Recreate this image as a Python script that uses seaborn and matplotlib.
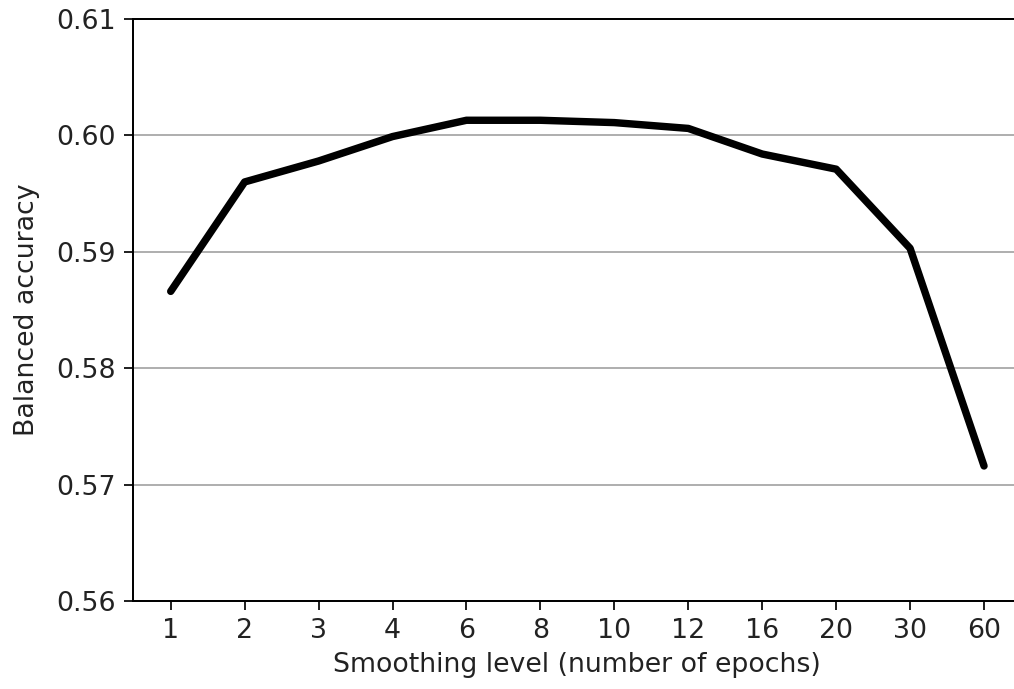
import matplotlib
matplotlib.use("Agg")
import matplotlib.pyplot as plt
import seaborn as sns
import pandas as pd

levels = ["1", "2", "3", "4", "6", "8", "10", "12", "16", "20", "30", "60"]
accuracy = [0.5866, 0.5960, 0.5978, 0.5999, 0.6013, 0.6013, 0.6011, 0.6006, 0.5984, 0.5971, 0.5903, 0.5716]
y_ticks = [0.56, 0.57, 0.58, 0.59, 0.60, 0.61]

df = pd.DataFrame({"level": levels, "acc": accuracy})

sns.set_style("white")
plt.rcParams["font.family"] = ["DejaVu Sans"]

W, H, DPI = 1014, 689, 178
fig = plt.figure(figsize=(W / DPI, H / DPI), dpi=DPI)
ax = fig.add_axes([133 / W, (H - 601) / H, 888 / W, 582 / H])

sns.lineplot(data=df, x="level", y="acc", color="black", linewidth=3.0, ax=ax, sort=False)

ax.set_xlim(-0.51, 11.5)
ax.set_ylim(0.56, 0.61)
ax.set_yticks(y_ticks)
ax.set_yticklabels([f"{t:.2f}" for t in y_ticks])
ax.yaxis.grid(True, color="#b0b0b0", linewidth=0.8)
ax.xaxis.grid(False)
ax.tick_params(axis="both", which="both", direction="out", length=3.5, width=0.8,
               labelsize=10.8, colors="#222222", bottom=True, left=True)
for s in ["left", "top", "bottom"]:
    ax.spines[s].set_visible(True)
    ax.spines[s].set_color("black")
    ax.spines[s].set_linewidth(0.8)
ax.spines["right"].set_visible(False)

ax.set_xlabel("Smoothing level (number of epochs)", fontsize=10.8, color="#222222", labelpad=3)
ax.set_ylabel("Balanced accuracy", fontsize=10.8, color="#222222", labelpad=6.5)

fig.savefig("out.png", dpi=DPI)
